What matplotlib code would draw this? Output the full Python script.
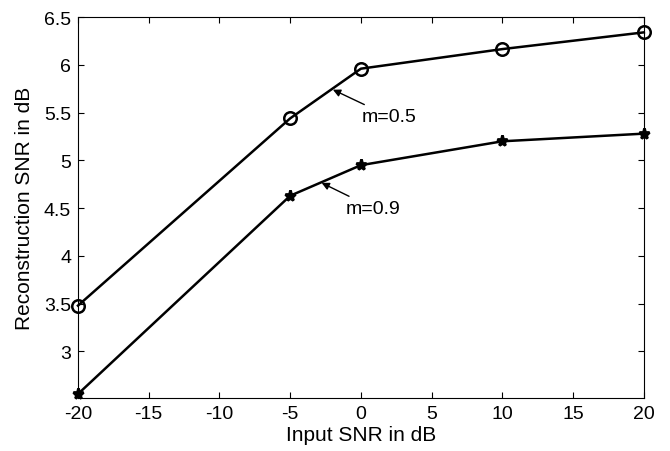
import matplotlib
matplotlib.use("Agg")
import matplotlib.pyplot as plt

plt.rcParams['font.family'] = ['Liberation Sans', 'DejaVu Sans']
plt.rcParams['axes.unicode_minus'] = False

# data
snr_in = [-20, -5, 0, 10, 20]
rec_m05 = [3.48, 5.44, 5.96, 6.165, 6.34]
rec_m09 = [2.555, 4.63, 4.95, 5.20, 5.28]

xticks = [-20, -15, -10, -5, 0, 5, 10, 15, 20]
yticks = [3, 3.5, 4, 4.5, 5, 5.5, 6, 6.5]
ytick_labels = ['3', '3.5', '4', '4.5', '5', '5.5', '6', '6.5']

fig = plt.figure(figsize=(6.7, 4.52), dpi=100)
ax = fig.add_axes([0.1164, 0.1166, 0.8446, 0.8434])

ax.plot(snr_in, rec_m05, color='black', lw=1.8, marker='o', ms=9,
        mfc='none', mec='black', mew=1.8, clip_on=False, zorder=3)
ax.plot(snr_in, rec_m09, color='black', lw=1.8, marker='*', ms=8,
        mfc='black', mec='black', mew=2.0, clip_on=False, zorder=3)

ax.annotate('m=0.5', xy=(-1.98, 5.74), xytext=(0.07, 5.46),
            fontsize=14, va='center', ha='left',
            arrowprops=dict(arrowstyle='-|>', color='black', lw=1.0,
                            shrinkA=1, shrinkB=0, mutation_scale=11))
ax.annotate('m=0.9', xy=(-2.78, 4.765), xytext=(-1.06, 4.50),
            fontsize=14, va='center', ha='left',
            arrowprops=dict(arrowstyle='-|>', color='black', lw=1.0,
                            shrinkA=1, shrinkB=0, mutation_scale=11))

ax.set_xlim(-20, 20)
ax.set_ylim(2.51, 6.5)
ax.set_xticks(xticks)
ax.set_yticks(yticks)
ax.set_yticklabels(ytick_labels)
ax.tick_params(direction='in', length=4, width=0.8, top=True, right=True,
               labelsize=14, pad=5)
for s in ax.spines.values():
    s.set_linewidth(0.8)

ax.set_xlabel('Input SNR in dB', fontsize=15, labelpad=2)
ax.set_ylabel('Reconstruction SNR in dB', fontsize=15, labelpad=7)

fig.savefig('out.png', dpi=100)
